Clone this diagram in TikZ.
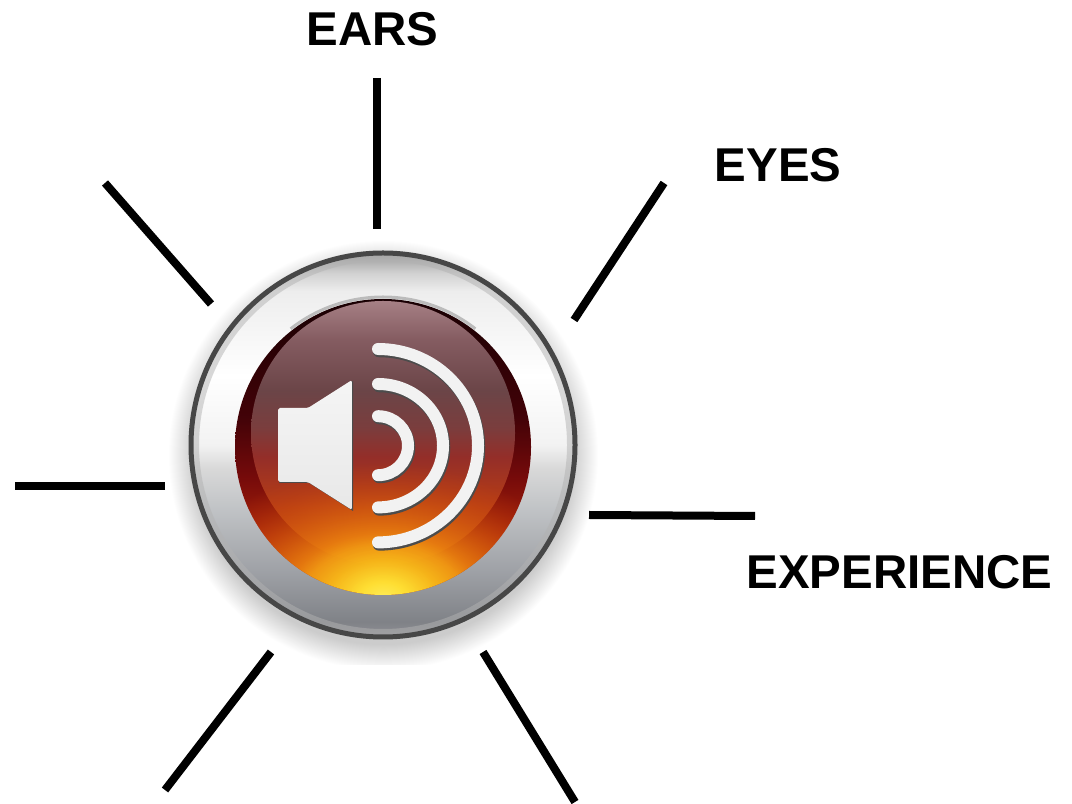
\documentclass[tikz,border=0pt]{standalone}
\usepackage{fontspec}
\setmainfont{Liberation Sans}
\usetikzlibrary{fadings}

\pgfdeclareverticalshading{ringshade}{100bp}{
  rgb(0bp)=(.56,.56,.58); rgb(25bp)=(.56,.56,.58); rgb(27bp)=(.50,.51,.53);
  rgb(33.5bp)=(.62,.63,.65); rgb(42bp)=(.76,.77,.78); rgb(47bp)=(.85,.85,.85);
  rgb(50bp)=(.95,.95,.95); rgb(59bp)=(1,1,1); rgb(70bp)=(.93,.93,.93);
  rgb(72.4bp)=(.82,.82,.82); rgb(75bp)=(.60,.60,.60); rgb(100bp)=(.60,.60,.60)}
\pgfdeclareverticalshading{baseshade}{100bp}{
  rgb(0bp)=(.80,.30,.05); rgb(25bp)=(.80,.30,.05); rgb(35bp)=(.66,.14,.04); rgb(45bp)=(.46,.04,.04);
  rgb(55bp)=(.26,.01,.03); rgb(75bp)=(.10,0,.01); rgb(100bp)=(.10,0,.01)}
\pgfdeclareverticalshading{glossshade}{100bp}{
  rgb(0bp)=(.80,.30,.05); rgb(25bp)=(.80,.30,.05); rgb(36bp)=(.72,.24,.08);
  rgb(45.5bp)=(.58,.18,.16); rgb(51bp)=(.48,.24,.24); rgb(58bp)=(.42,.27,.28);
  rgb(67.7bp)=(.52,.36,.38); rgb(75bp)=(.65,.50,.52); rgb(100bp)=(.65,.50,.52)}
\pgfdeclareradialshading{fireshade}{\pgfpoint{0bp}{0bp}}{
  rgb(0bp)=(1,.93,.35); rgb(3bp)=(1,.88,.20); rgb(7bp)=(.97,.72,.10); rgb(12bp)=(.93,.52,.06);
  rgb(22bp)=(.82,.30,.05); rgb(50bp)=(.82,.30,.05)}
\pgfdeclareradialshading{firemask}{\pgfpoint{0bp}{0bp}}{
  gray(0bp)=(1); gray(10bp)=(.95); gray(25bp)=(0); gray(50bp)=(0)}
\pgfdeclarefading{firefade}{\pgfuseshading{firemask}}
\pgfdeclareradialshading{haloshade}{\pgfpoint{0bp}{0bp}}{
  rgb(0bp)=(.72,.72,.72); rgb(22bp)=(.80,.80,.80); rgb(25bp)=(1,1,1); rgb(50bp)=(1,1,1)}

\tikzset{
  spoke/.style={line width=0.08cm, black},
  sense/.style={font=\fontsize{13.5pt}{15pt}\bfseries, inner sep=0pt},
  wave/.style={line width=0.12cm, line cap=round, draw=white!90!gray},
  waveshadow/.style={line width=0.125cm, line cap=round, draw=black!70}
}

\begin{document}
\begin{tikzpicture}
    \fill[white, use as bounding box] (0,0) rectangle (10.72,8.03);

    % Soft shadow round the button
    \begin{scope}
        \clip (1.4,1.38) rectangle (6.2,6);
        \shade[shading=haloshade] (3.83,3.48) circle (2.15);
    \end{scope}

    % Outer ring
    \shade[shading=ringshade] (3.83,3.58) circle (1.92);
    \draw[black!30, line width=0.07cm, opacity=0.5] (3.83,3.58) circle (1.875);
    \draw[black!72, line width=0.05cm] (3.83,3.58) circle (1.92);

    % Inner disc
    \begin{scope}
        \clip (3.83,3.56) circle (1.48);
        \shade[shading=baseshade] (3.83,3.56) circle (1.48);
        \shade[shading=glossshade] (3.83,3.70) circle (1.32);
        \shade[shading=fireshade, path fading=firefade] (3.83,2.05) ellipse (2.0 and 1.35);
    \end{scope}
    \draw[black!35, line width=0.03cm, opacity=0.7] (3.83,3.56) ++(52:1.50) arc[start angle=52, end angle=128, radius=1.50];

    % Speaker
    \fill[black!70] (2.79,3.94) -- (3.09,3.94) -- (3.53,4.22) -- (3.53,2.92) -- (3.09,3.20) -- (2.79,3.20) -- cycle;
    \shade[top color=white!92!gray, bottom color=white!82!gray, rounded corners=0.5pt]
        (2.78,3.95) -- (3.08,3.95) -- (3.52,4.23) -- (3.52,2.93) -- (3.08,3.21) -- (2.78,3.21) -- cycle;

    % Sound waves
    \draw[waveshadow] (3.79,3.85) arc[start angle=90, end angle=-90, x radius=0.30, y radius=0.295];
    \draw[waveshadow] (3.79,4.17) arc[start angle=90, end angle=-90, x radius=0.65, y radius=0.617];
    \draw[waveshadow] (3.79,4.52) arc[start angle=90, end angle=-90, x radius=1.00, y radius=0.967];
    \draw[wave] (3.78,3.868) arc[start angle=90, end angle=-90, x radius=0.30, y radius=0.295];
    \draw[wave] (3.78,4.19) arc[start angle=90, end angle=-90, x radius=0.65, y radius=0.617];
    \draw[wave] (3.78,4.54) arc[start angle=90, end angle=-90, x radius=1.00, y radius=0.967];

    % Labels
    \node[sense] (ears) at (3.725,7.74) {EARS};
    \node[sense] (eyes) at (7.78,6.38) {EYES};
    \node[sense] (experience) at (8.995,2.31) {EXPERIENCE};

    % Spoke ends
    \coordinate (earsfar) at (3.77,7.25);
    \coordinate (earsnear) at (3.77,5.74);
    \coordinate (eyesfar) at (6.64,6.20);
    \coordinate (eyesnear) at (5.74,4.83);
    \coordinate (expnear) at (5.89,2.88);
    \coordinate (expfar) at (7.55,2.87);
    \coordinate (lowrightnear) at (4.83,1.51);
    \coordinate (lowrightfar) at (5.75,0.01);
    \coordinate (lowleftnear) at (2.71,1.51);
    \coordinate (lowleftfar) at (1.65,0.13);
    \coordinate (leftnear) at (1.65,3.17);
    \coordinate (leftfar) at (0.15,3.17);
    \coordinate (upleftnear) at (2.11,4.99);
    \coordinate (upleftfar) at (1.05,6.20);

    % Spokes
    \draw[spoke] (earsfar) -- (earsnear);
    \draw[spoke] (eyesfar) -- (eyesnear);
    \draw[spoke] (expnear) -- (expfar);
    \draw[spoke] (lowrightnear) -- (lowrightfar);
    \draw[spoke] (lowleftnear) -- (lowleftfar);
    \draw[spoke] (leftnear) -- (leftfar);
    \draw[spoke] (upleftnear) -- (upleftfar);
\end{tikzpicture}
\end{document}
